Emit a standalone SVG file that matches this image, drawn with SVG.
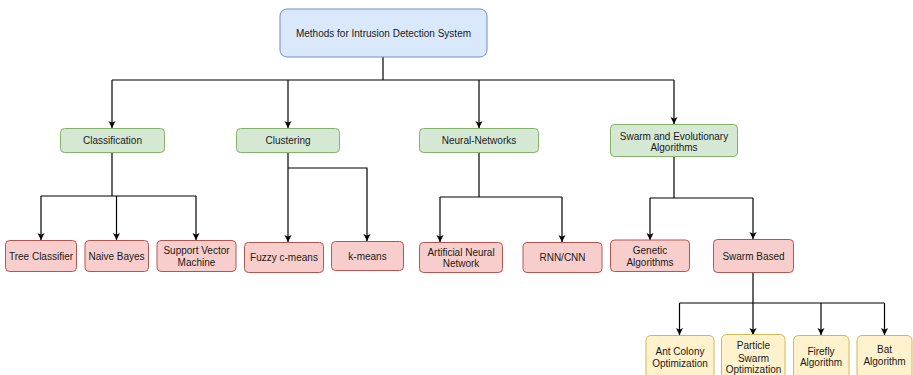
<svg xmlns="http://www.w3.org/2000/svg" width="913" height="375" viewBox="0 0 913 375">
  <defs>
    <marker id="arrow" markerUnits="userSpaceOnUse" markerWidth="8" markerHeight="8" refX="7" refY="4" orient="auto">
      <path d="M0,0.5 L7,4 L0,7.5 L1.8,4 z" fill="#000"/>
    </marker>
    <style>
      .edge { fill: none; stroke: #000; stroke-width: 1.2; }
      .arr { marker-end: url(#arrow); }
      .box { stroke-width: 1; }
      .blue { fill: #dae8fc; stroke: #6c8ebf; }
      .green { fill: #d5e8d4; stroke: #82b366; }
      .red { fill: #f8cecc; stroke: #b85450; }
      .yellow { fill: #fff2cc; stroke: #d6b656; }
      text { font-family: "Liberation Sans", Arial, Helvetica, sans-serif; font-size: 10px; fill: #1a1a1a; text-anchor: middle; }
    </style>
  </defs>

  <rect width="913" height="375" fill="#ffffff"/>

  <!-- connectors -->
  <g id="edges">
    <!-- root to categories -->
    <path class="edge" d="M383,57 V80"/>
    <path class="edge" d="M112,80 H674"/>
    <path class="edge arr" d="M112,80 V128"/>
    <path class="edge arr" d="M288,80 V128"/>
    <path class="edge arr" d="M479,80 V128"/>
    <path class="edge arr" d="M674,80 V124"/>
    <!-- classification -->
    <path class="edge" d="M112,152 V196 M41,196 H196"/>
    <path class="edge arr" d="M41,196 V240"/>
    <path class="edge arr" d="M116.5,196 V240"/>
    <path class="edge arr" d="M196,196 V240"/>
    <!-- clustering -->
    <path class="edge arr" d="M288,152 V242"/>
    <path class="edge arr" d="M288,168 H367 V241"/>
    <!-- neural networks -->
    <path class="edge" d="M479,152 V197 M440,197 H562"/>
    <path class="edge arr" d="M440,197 V242"/>
    <path class="edge arr" d="M562,197 V242"/>
    <!-- swarm and evolutionary -->
    <path class="edge" d="M674,156 V198 M650,198 H753"/>
    <path class="edge arr" d="M650,198 V240"/>
    <path class="edge arr" d="M753,198 V239"/>
    <!-- swarm based -->
    <path class="edge arr" d="M753,272 V335"/>
    <path class="edge" d="M679.5,303 H884.5"/>
    <path class="edge arr" d="M679.5,303 V335"/>
    <path class="edge arr" d="M821,303 V335"/>
    <path class="edge arr" d="M884.5,303 V335"/>
  </g>

  <!-- root -->
  <g id="root">
    <rect class="box blue" x="280" y="9" width="207" height="48" rx="7"/>
    <text x="383.5" y="36.5">Methods for Intrusion Detection System</text>
  </g>

  <!-- categories -->
  <g id="classification">
    <rect class="box green" x="60.5" y="128.5" width="104" height="24" rx="4"/>
    <text x="112.5" y="144">Classification</text>
  </g>
  <g id="clustering">
    <rect class="box green" x="236.5" y="128.5" width="103" height="24" rx="4"/>
    <text x="288" y="144">Clustering</text>
  </g>
  <g id="neural-networks">
    <rect class="box green" x="419.5" y="128.5" width="119" height="24" rx="4"/>
    <text x="479" y="144">Neural-Networks</text>
  </g>
  <g id="swarm-evolutionary">
    <rect class="box green" x="610.5" y="124.5" width="127" height="32" rx="4"/>
    <text x="674" y="139.5">Swarm and Evolutionary</text>
    <text x="674" y="150.5">Algorithms</text>
  </g>

  <!-- classification leaves -->
  <g id="tree-classifier">
    <rect class="box red" x="5.5" y="240.5" width="71" height="31" rx="4"/>
    <text x="41" y="260">Tree Classifier</text>
  </g>
  <g id="naive-bayes">
    <rect class="box red" x="85" y="240.5" width="63.5" height="31" rx="4"/>
    <text x="116.5" y="260">Naive Bayes</text>
  </g>
  <g id="svm">
    <rect class="box red" x="157" y="240.5" width="79" height="31" rx="4"/>
    <text x="196.5" y="254">Support Vector</text>
    <text x="196.5" y="266">Machine</text>
  </g>

  <!-- clustering leaves -->
  <g id="fuzzy-c-means">
    <rect class="box red" x="244.5" y="242.5" width="79" height="30" rx="4"/>
    <text x="284" y="261">Fuzzy c-means</text>
  </g>
  <g id="k-means">
    <rect class="box red" x="331.5" y="241.5" width="72" height="29" rx="4"/>
    <text x="367.5" y="260">k-means</text>
  </g>

  <!-- neural network leaves -->
  <g id="ann">
    <rect class="box red" x="419.5" y="242.5" width="83" height="30" rx="4"/>
    <text x="461" y="256">Artificial Neural</text>
    <text x="461" y="267">Network</text>
  </g>
  <g id="rnn-cnn">
    <rect class="box red" x="523" y="242.5" width="79" height="30" rx="4"/>
    <text x="562.5" y="261">RNN/CNN</text>
  </g>

  <!-- swarm and evolutionary leaves -->
  <g id="genetic">
    <rect class="box red" x="610.5" y="240" width="79" height="31.5" rx="4"/>
    <text x="650" y="254">Genetic</text>
    <text x="650" y="266">Algorithms</text>
  </g>
  <g id="swarm-based">
    <rect class="box red" x="713.5" y="239.5" width="80" height="33" rx="4"/>
    <text x="753.5" y="260">Swarm Based</text>
  </g>

  <!-- swarm based leaves -->
  <g id="ant-colony">
    <rect class="box yellow" x="646" y="335.5" width="68" height="50" rx="5"/>
    <text x="680" y="355">Ant Colony</text>
    <text x="680" y="367">Optimization</text>
  </g>
  <g id="pso">
    <rect class="box yellow" x="721.5" y="334.5" width="63.5" height="50" rx="5"/>
    <text x="753.5" y="349">Particle</text>
    <text x="753.5" y="361.5">Swarm</text>
    <text x="753.5" y="373">Optimization</text>
  </g>
  <g id="firefly">
    <rect class="box yellow" x="793.5" y="335.5" width="55.5" height="50" rx="5"/>
    <text x="821" y="355">Firefly</text>
    <text x="821" y="366">Algorithm</text>
  </g>
  <g id="bat">
    <rect class="box yellow" x="857" y="335.5" width="55" height="50" rx="5"/>
    <text x="884.5" y="352.5">Bat</text>
    <text x="884.5" y="364.5">Algorithm</text>
  </g>
</svg>
